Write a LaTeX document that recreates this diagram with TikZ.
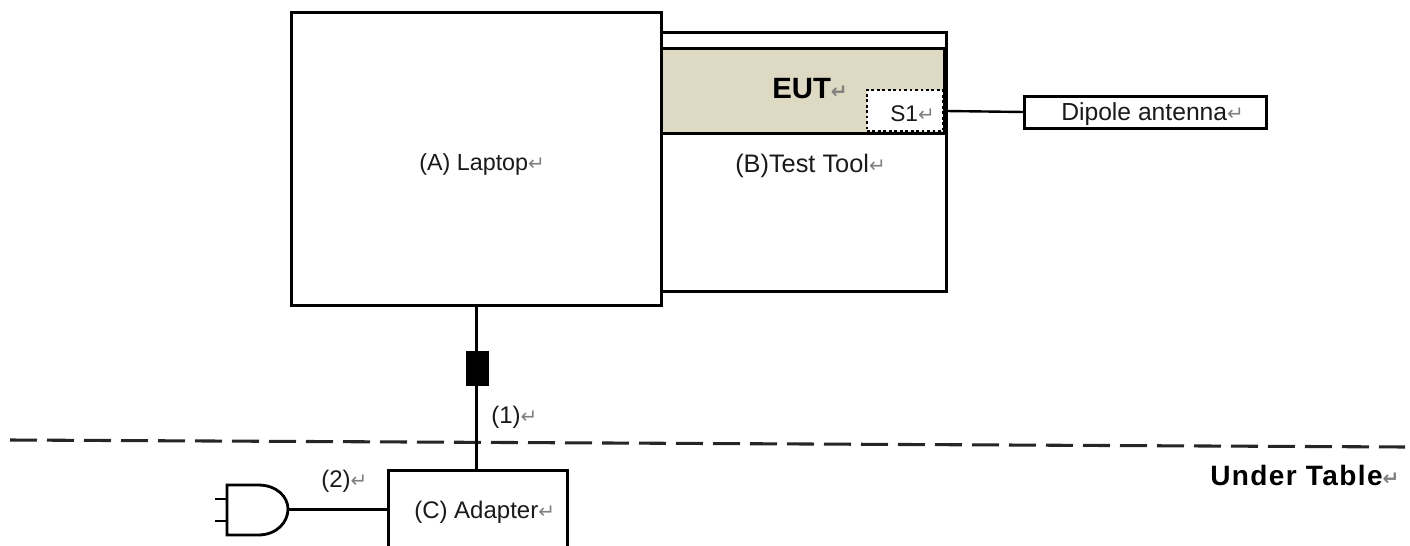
\documentclass[tikz,border=0pt]{standalone}
\usepackage{fontspec}
\setmainfont{Liberation Sans}
\newfontfamily\markfont{DejaVu Sans}
\definecolor{eutfill}{HTML}{DDD9C3}
\definecolor{inkc}{HTML}{1A1A1A}
\newcommand{\rmark}{{\markfont\fontsize{15pt}{15pt}\selectfont\textcolor{gray}{↵}}}
\tikzset{
  px/.style={x=0.75pt,y=-0.75pt},
  boxn/.style={draw=black,line width=2.25pt,fill=white,inner sep=0pt,outer sep=0pt},
  wire/.style={draw=black,line width=2.25pt},
  thinwire/.style={draw=black,line width=1.8pt},
  txt/.style={inner sep=0pt,text=inkc,font=\fontsize{18pt}{20pt}\selectfont},
  boldtxt/.style={inner sep=0pt,text=black,font=\fontsize{22pt}{24pt}\selectfont\bfseries},
}
\begin{document}
\begin{tikzpicture}[px]
\useasboundingbox (0,0) rectangle (1410,546);
\clip (0,0) rectangle (1410,546);
% Test tool
\node[boxn,minimum width=213.75pt,minimum height=194.25pt] (tool) at (803.5,161.5) {};
\node[boxn,fill=eutfill,minimum width=212.25pt,minimum height=63.75pt] (eut) at (802.5,90.5) {};
\node[draw=black,fill=white,line width=2.1pt,dotted,minimum width=57pt,minimum height=30.75pt,inner sep=0pt,outer sep=0pt] (s1) at (905,110.5) {};
% Laptop
\node[boxn,minimum width=277.5pt,minimum height=219.75pt] (laptop) at (476,158.5) {};
% Antenna
\node[boxn,minimum width=181.5pt,minimum height=24pt] (ant) at (1145,112) {};
% Adapter
\node[boxn,minimum width=134.25pt,minimum height=75pt] (adapter) at (477.5,520) {};
% Dashed table line
\coordinate (dl) at (10,440);
\coordinate (dr) at (1405,447);
\draw[line width=2.3pt,draw=black!85,dash pattern=on 20.25pt off 7.5pt] (dl) -- (dr);
% Cable
\draw[wire] (laptop.south) -- (adapter.north -| laptop.south);
\node[draw=black,fill=black,minimum width=16.5pt,minimum height=25.5pt,inner sep=0pt] (ferrite) at (477.5,368.5) {};
% Plug
\draw[line width=2.1pt,draw=black] (227,485) -- (258,485) .. controls (277,485) and (288,497) .. (288,509) coordinate (ptip) .. controls (288,522) and (277,535) .. (258,535) -- (227,535) -- cycle;
\draw[line width=1.8pt] (215,499) -- (227,499);
\draw[line width=1.8pt] (215,521) -- (227,521);
\draw[wire] (ptip) -- (adapter.west |- ptip);
% Antenna line
\draw[thinwire] (tool.east |- 0,111) -- (ant.west |- 0,112);
% Labels
\node[txt,anchor=west,font=\fontsize{17.5pt}{20pt}\selectfont] (la) at (419,164) {(A) Laptop\rmark};
\node[txt,anchor=west,font=\fontsize{19pt}{20pt}\selectfont] (lb) at (735,166) {(B)Test Tool\rmark};
\node[boldtxt,anchor=west] (le) at (772,89) {EUT\rmark};
\node[txt,anchor=west,font=\fontsize{17pt}{20pt}\selectfont] (ls) at (890,114) {S1\rmark};
\node[txt,anchor=west,font=\fontsize{18.5pt}{20pt}\selectfont] (ld) at (1061,114) {Dipole antenna\rmark};
\node[txt,anchor=west] (l1) at (491,417) {(1)\rmark};
\node[txt,anchor=west] (l2) at (321,481) {(2)\rmark};
\node[txt,anchor=west] (lc) at (414,512) {(C) Adapter\rmark};
\node[boldtxt,anchor=west,font=\fontsize{21pt}{24pt}\selectfont\bfseries\addfontfeature{LetterSpace=5}] (lu) at (1210,475) {Under Table\rmark};
\end{tikzpicture}
\end{document}
